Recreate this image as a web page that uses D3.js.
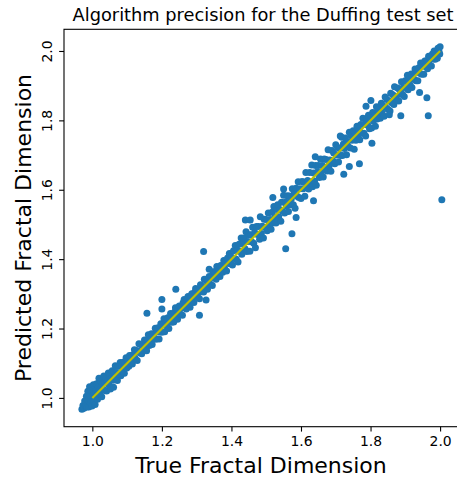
<!DOCTYPE html>
<html><head><meta charset="utf-8">
<script src="https://cdn.jsdelivr.net/npm/d3@7"></script>
<style>body{margin:0;background:#fff}svg{display:block}text{font-family:"DejaVu Sans",sans-serif}</style>
</head><body>
<script>
// True fractal dimension (x) and predicted fractal dimension (y)
const trueDim = [
0.970,0.973,0.976,0.978,0.981,0.983,0.985,0.987,0.988,0.990,0.992,0.993,0.995,0.997,0.999,1.001,1.003,1.004,1.006,1.008,
1.010,1.012,1.013,1.015,1.017,1.019,1.021,1.023,1.025,1.027,1.029,1.031,1.033,1.035,1.037,1.039,1.041,1.043,1.046,1.048,
1.050,1.052,1.054,1.057,1.059,1.061,1.063,1.066,1.068,1.070,1.072,1.075,1.077,1.080,1.082,1.084,1.087,1.089,1.092,1.094,
1.097,1.099,
1.102,1.105,1.107,1.110,1.113,1.115,1.118,1.121,1.123,1.126,1.129,1.131,1.134,1.137,1.140,1.142,1.145,1.148,1.150,1.153,
1.156,1.159,1.161,1.164,1.167,1.170,1.172,1.175,1.178,1.181,1.183,1.186,1.189,1.192,1.195,1.197,1.200,1.203,1.206,1.208,
1.211,1.214,1.217,1.220,1.222,1.225,1.228,1.231,1.234,1.236,1.239,1.242,1.245,1.247,1.250,1.253,1.256,1.259,1.261,1.264,
1.267,1.270,1.272,1.275,1.278,1.281,1.284,1.286,1.289,1.292,1.295,1.297,1.300,1.303,1.306,1.308,1.311,1.314,1.317,1.320,
1.322,1.325,1.328,1.331,1.333,1.336,1.339,1.342,1.345,1.347,1.350,1.353,1.356,1.358,1.361,1.364,1.367,1.369,1.372,1.375,
1.378,1.380,1.383,1.386,1.389,1.391,1.394,1.397,
1.400,1.403,1.406,1.408,1.411,1.414,1.417,1.419,1.422,1.425,1.428,1.430,1.433,1.436,1.439,1.442,1.444,1.447,1.450,1.453,
1.456,1.458,1.461,1.464,1.467,1.469,1.472,1.475,1.478,1.481,1.483,1.486,1.489,1.492,1.494,1.497,1.500,1.503,1.506,1.508,
1.511,1.514,1.517,1.519,1.522,1.525,1.528,1.531,1.533,1.536,1.539,1.542,1.544,1.547,1.550,1.553,1.556,1.558,1.561,1.564,
1.567,1.569,1.572,1.575,1.578,1.581,1.583,1.586,1.589,1.592,1.594,1.597,1.600,1.603,1.606,1.608,1.611,1.614,1.617,1.619,
1.622,1.625,1.628,1.631,1.633,1.636,1.639,1.642,1.644,1.647,1.650,1.653,1.656,1.658,1.661,1.664,1.667,1.669,1.672,1.675,
1.678,1.681,1.683,1.686,1.689,1.692,1.694,1.697,1.700,1.703,1.706,1.708,1.711,1.714,1.717,1.719,1.722,1.725,1.728,1.731,
1.733,1.736,1.739,1.742,1.744,1.747,1.750,1.753,1.756,1.758,1.761,1.764,1.767,1.769,1.772,1.775,1.778,1.781,1.783,1.786,
1.789,1.792,1.794,1.797,
1.800,1.803,1.806,1.808,1.811,1.814,1.817,1.819,1.822,1.825,1.828,1.831,1.833,1.836,1.839,1.842,1.844,1.847,1.850,1.853,
1.856,1.858,1.861,1.864,1.867,1.869,1.872,1.875,1.878,1.881,1.883,1.886,1.889,1.892,1.894,1.897,1.900,1.903,1.906,1.908,
1.911,1.914,1.917,1.919,1.922,1.925,1.928,1.931,1.933,1.936,1.939,1.942,1.944,1.947,1.950,1.953,1.956,1.958,1.961,1.964,
1.967,1.969,1.972,1.975,1.978,1.981,1.983,1.986,1.989,1.992,1.994,1.997,2.000,1.999,
// outliers
1.157,1.200,1.200,1.240,1.308,1.327,1.320,1.336,1.440,1.454,1.574,1.556,1.586,1.636,1.723,1.768,1.713,1.804,2.005,1.966,
1.887,1.941,1.962,1.787,1.801,1.739,1.854,1.550,1.519,1.641
];
const predDim = [
0.967,0.978,0.970,0.991,0.976,1.005,0.974,1.019,0.994,0.974,1.032,1.007,0.987,1.021,0.977,1.006,1.038,0.991,1.024,0.981,
1.020,1.041,1.007,0.996,1.031,1.057,1.011,1.026,1.047,1.003,1.040,1.026,1.063,1.021,1.045,1.058,1.020,1.048,1.072,1.037,
1.063,1.026,1.056,1.078,1.051,1.031,1.073,1.093,1.054,1.073,1.050,1.091,1.071,1.102,1.064,1.092,1.077,1.103,1.071,1.099,
1.116,1.086,
1.108,1.091,1.122,1.106,1.123,1.098,1.121,1.139,1.115,1.137,1.108,1.135,1.156,1.130,1.153,1.127,1.151,1.138,1.167,1.150,
1.136,1.167,1.182,1.151,1.168,1.185,1.154,1.182,1.172,1.201,1.169,1.190,1.202,1.170,1.191,1.214,1.189,1.211,1.228,1.191,
1.214,1.207,1.231,1.200,1.228,1.243,1.218,1.232,1.219,1.247,1.260,1.236,1.227,1.254,1.265,1.242,1.259,1.238,1.274,1.284,
1.260,1.256,1.280,1.292,1.274,1.261,1.290,1.300,1.279,1.275,1.305,1.315,1.297,1.290,1.313,1.286,1.326,1.306,1.321,1.305,
1.342,1.319,1.338,1.313,1.336,1.350,1.328,1.349,1.324,1.364,1.346,1.364,1.342,1.379,1.353,1.368,1.350,1.382,1.373,1.362,
1.396,1.374,1.391,1.366,1.403,1.388,1.416,1.387,
1.406,1.383,1.424,1.402,1.439,1.400,1.426,1.392,1.443,1.422,1.461,1.414,1.445,1.461,1.430,1.479,1.422,1.451,1.470,1.423,
1.470,1.450,1.492,1.446,1.477,1.433,1.494,1.471,1.494,1.457,1.522,1.474,1.495,1.461,1.515,1.491,1.514,1.482,1.533,1.498,
1.514,1.486,1.535,1.504,1.552,1.522,1.504,1.543,1.557,1.522,1.543,1.509,1.564,1.538,1.584,1.533,1.565,1.554,1.583,1.537,
1.582,1.557,1.573,1.603,1.557,1.591,1.547,1.604,1.581,1.623,1.578,1.603,1.575,1.624,1.603,1.622,1.581,1.650,1.607,1.627,
1.602,1.650,1.622,1.671,1.609,1.648,1.625,1.670,1.613,1.651,1.670,1.635,1.689,1.650,1.670,1.637,1.689,1.665,1.687,1.654,
1.715,1.669,1.686,1.653,1.713,1.683,1.706,1.675,1.730,1.700,1.722,1.680,1.719,1.699,1.751,1.699,1.732,1.719,1.749,1.701,
1.737,1.724,1.766,1.720,1.758,1.743,1.770,1.717,1.765,1.743,1.783,1.755,1.770,1.744,1.788,1.763,1.806,1.763,1.789,1.755,
1.803,1.786,1.815,1.776,
1.808,1.778,1.823,1.798,1.814,1.783,1.839,1.804,1.832,1.821,1.806,1.849,1.822,1.842,1.812,1.867,1.837,1.860,1.832,1.856,
1.827,1.878,1.851,1.874,1.846,1.897,1.868,1.860,1.893,1.856,1.889,1.875,1.911,1.875,1.895,1.869,1.914,1.895,1.930,1.888,
1.918,1.901,1.934,1.895,1.926,1.918,1.948,1.914,1.941,1.914,1.952,1.936,1.965,1.933,1.957,1.933,1.971,1.955,1.972,1.949,
1.985,1.961,1.978,1.957,1.991,1.977,2.000,1.976,1.997,1.979,2.008,1.998,2.012,1.991,
// outliers
1.244,1.284,1.256,1.313,1.238,1.282,1.422,1.371,1.513,1.513,1.473,1.430,1.520,1.568,1.645,1.675,1.755,1.734,1.571,1.813,
1.813,1.880,1.865,1.841,1.857,1.667,1.816,1.602,1.578,1.695
];
const idealLine = [1.0, 2.0];
const xTicks = [1.0, 1.2, 1.4, 1.6, 1.8, 2.0];
const yTicks = [1.0, 1.2, 1.4, 1.6, 1.8, 2.0];
const titleText = "Algorithm precision for the Duffing test set";
const xLabelText = "True Fractal Dimension";
const yLabelText = "Predicted Fractal Dimension";

const W = 457, H = 481;
const L = 64, R = 458, T = 29.3, B = 426.7;
const svg = d3.select("body").append("svg").attr("width", W).attr("height", H);

const x = d3.scaleLinear().domain([0.9185, 2.0515]).range([L, R]);
const y = d3.scaleLinear().domain([0.917, 2.0625]).range([B, T]);

const pts = trueDim.map((d, i) => [d, predDim[i]]);

svg.append("g").selectAll("circle").data(pts).join("circle")
  .attr("cx", d => x(d[0])).attr("cy", d => y(d[1])).attr("r", 3.5)
  .attr("fill", "#1f77b4");

svg.append("line")
  .attr("x1", x(idealLine[0])).attr("y1", y(idealLine[0]))
  .attr("x2", x(idealLine[1])).attr("y2", y(idealLine[1]))
  .attr("stroke", "#bfbf00").attr("stroke-width", 2.1);

// spines
svg.append("rect").attr("x", L).attr("y", T).attr("width", R - L).attr("height", B - T)
  .attr("fill", "none").attr("stroke", "#000").attr("stroke-width", 1.1);

const xa = svg.append("g").attr("transform", `translate(0,${B})`)
  .call(d3.axisBottom(x).tickValues(xTicks).tickFormat(d3.format(".1f")).tickSize(4.9).tickPadding(4.4));
xa.select(".domain").remove();
xa.selectAll("line").attr("stroke-width", 1.1);
xa.selectAll("text").attr("font-size", "13.9px").attr("font-family", "DejaVu Sans").attr("fill", "#000");

const ya = svg.append("g").attr("transform", `translate(${L},0)`)
  .call(d3.axisLeft(y).tickValues(yTicks).tickFormat(d3.format(".1f")).tickSize(4.9));
ya.select(".domain").remove();
ya.selectAll("line").attr("stroke-width", 1.1);
ya.selectAll("text")
  .attr("x", null).attr("dy", null)
  .attr("text-anchor", "middle")
  .attr("transform", "translate(-12.3,0) rotate(-90)")
  .attr("font-size", "13.9px").attr("font-family", "DejaVu Sans").attr("fill", "#000");

svg.append("text").attr("x", 263).attr("y", 21).attr("text-anchor", "middle")
  .attr("font-size", "17.8px").text(titleText);
svg.append("text").attr("x", (L + R) / 2).attr("y", 473).attr("text-anchor", "middle")
  .attr("font-size", "22px").text(xLabelText);
svg.append("text").attr("transform", `translate(31,${(T + B) / 2}) rotate(-90)`).attr("text-anchor", "middle")
  .attr("font-size", "22px").text(yLabelText);
</script>
</body></html>
